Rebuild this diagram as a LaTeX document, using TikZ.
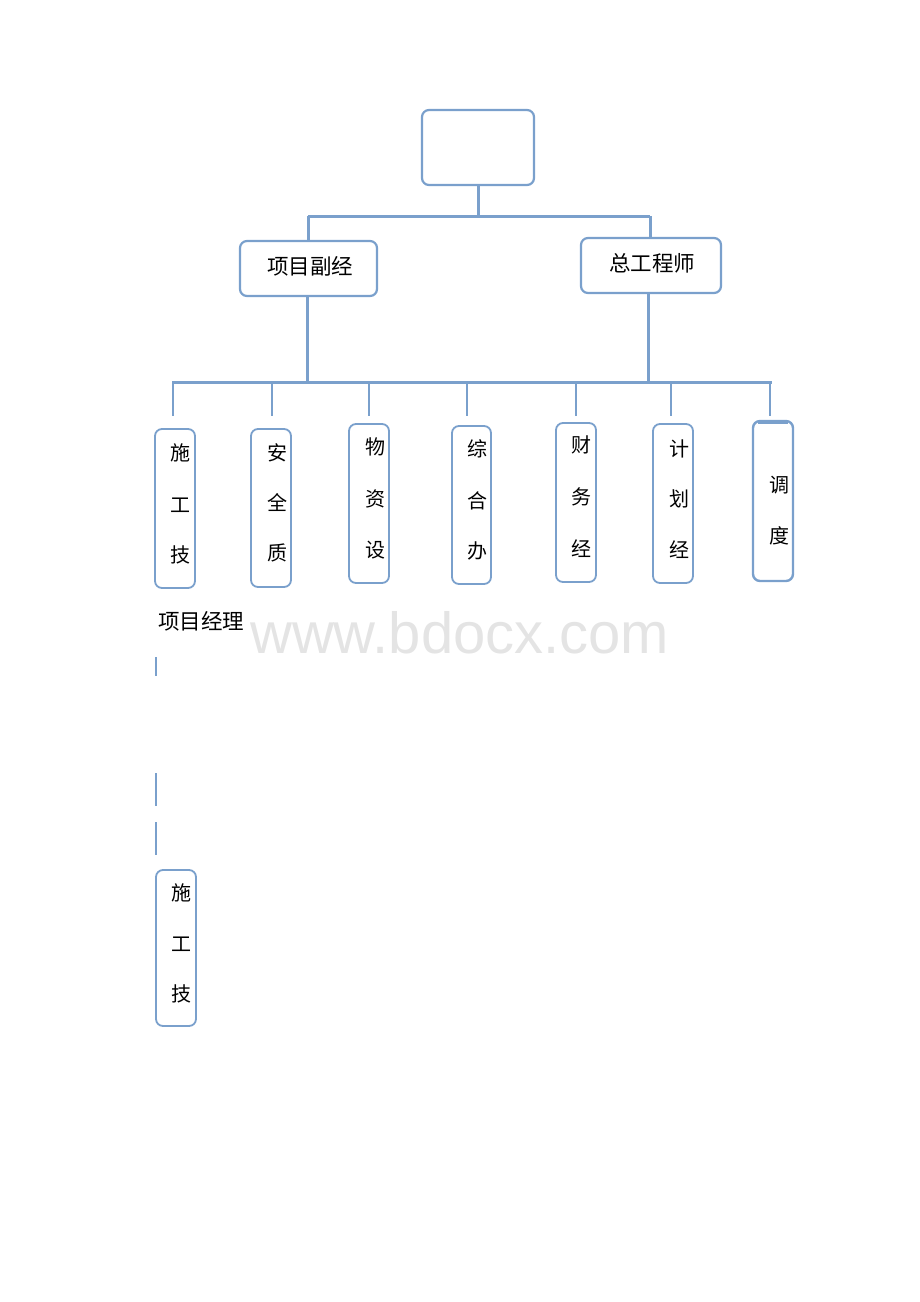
\documentclass[tikz,border=0pt]{standalone}
\usepackage{fontspec}
\newfontfamily\cjk{Noto Sans CJK SC}
\setsansfont{Liberation Sans}
\definecolor{ln}{HTML}{7AA0CC}
\definecolor{wm}{HTML}{E4E4E4}
\begin{document}
\begin{tikzpicture}[x=1pt,y=-1pt,
  conn/.style={draw=ln,line width=3pt},
  thin/.style={draw=ln,line width=1.3pt},
  rbox/.style={draw=ln,line width=1.8pt,rounded corners=7pt},
  lbl/.style={font=\cjk\fontsize{20}{20}\selectfont,inner sep=0pt,anchor=center},
  hlbl/.style={font=\cjk\fontsize{21.5}{21.5}\selectfont,inner sep=0pt,anchor=center},
]
\useasboundingbox (0,0) rectangle (920,1302);
% top box
\draw[rbox,line width=2.2pt] (422,110) rectangle (534,185);
\coordinate (top) at (478,185);
% second level
\draw[rbox,line width=2.2pt] (240,241) rectangle (377,296);
\node[hlbl] (fj) at (310,266) {项目副经};
\draw[rbox,line width=2.2pt] (581,238) rectangle (721,293);
\node[hlbl] (zg) at (652,263) {总工程师};
\coordinate (j1) at (478,216);
\coordinate (jl) at (308,216);
\coordinate (jr) at (650,216);
\draw[conn] (top) -- (j1);
\draw[conn] (jl) -- (jr);
\draw[conn] (jl) -- (308,241);
\draw[conn] (jr) -- (650,238);
% down to bus
\coordinate (bl) at (173,382);
\coordinate (br) at (772,382);
\draw[conn] (307,296) -- (307,382);
\draw[conn] (648,293) -- (648,382);
\draw[conn] (bl) -- (br);
% drops
\foreach \x in {173,272,369,467,576,671,770}{
  \draw[thin,line width=2pt] (\x,381) -- (\x,416);
}
% third level boxes
\draw[rbox] (155,429) rectangle (195,588);
\node[lbl] (a1) at (180,453) {施};
\node[lbl] (a2) at (180,505) {工};
\node[lbl] (a3) at (180,555) {技};
\draw[rbox] (251,429) rectangle (291,587);
\node[lbl] (b1) at (277,453) {安};
\node[lbl] (b2) at (277,503) {全};
\node[lbl] (b3) at (277,553) {质};
\draw[rbox] (349,424) rectangle (389,583);
\node[lbl] (c1) at (375,447) {物};
\node[lbl] (c2) at (375,499) {资};
\node[lbl] (c3) at (375,550) {设};
\draw[rbox] (452,426) rectangle (491,584);
\node[lbl] (d1) at (477,449) {综};
\node[lbl] (d2) at (477,501) {合};
\node[lbl] (d3) at (477,551) {办};
\draw[rbox] (556,423) rectangle (596,582);
\node[lbl] (e1) at (581,445) {财};
\node[lbl] (e2) at (581,497) {务};
\node[lbl] (e3) at (581,549) {经};
\draw[rbox] (653,424) rectangle (693,583);
\node[lbl] (f1) at (679,449) {计};
\node[lbl] (f2) at (679,499) {划};
\node[lbl] (f3) at (679,550) {经};
\draw[rbox,line width=2.4pt] (753,421) rectangle (793,581);
\draw[ln,line width=3.5pt] (758,422) -- (788,422);
\node[lbl] (g1) at (779,485) {调};
\node[lbl] (g2) at (779,536) {度};
% lower part
\node[hlbl,anchor=west] (pm) at (158,621) {项目经理};
\node[font=\sffamily\fontsize{58}{58}\selectfont,text=wm,inner sep=0pt,anchor=west] (wmk) at (250,633) {www.bdocx.com};
\draw[thin] (156,657) -- (156,676);
\draw[thin] (156,773) -- (156,806);
\draw[thin] (156,822) -- (156,855);
\draw[rbox] (156,870) rectangle (196,1026);
\node[lbl] (h1) at (181,893) {施};
\node[lbl] (h2) at (181,944) {工};
\node[lbl] (h3) at (181,994) {技};
\end{tikzpicture}
\end{document}
